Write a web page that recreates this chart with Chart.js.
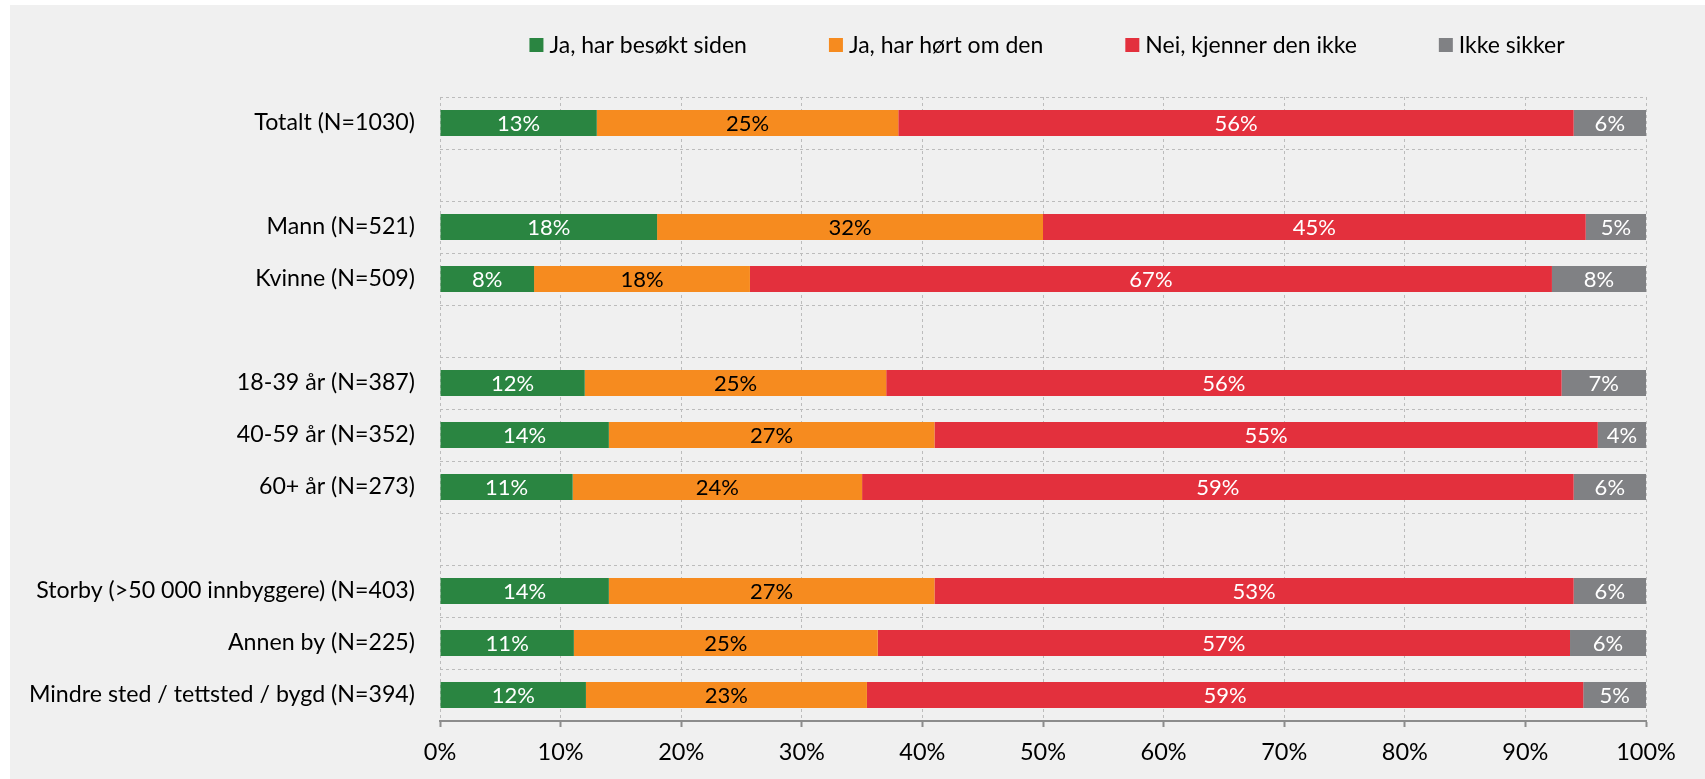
<!DOCTYPE html>
<html><head><meta charset="utf-8">
<script src="https://cdn.jsdelivr.net/npm/chart.js@4.4.0/dist/chart.umd.min.js"></script>
<style>
html,body{margin:0;padding:0;background:#ffffff;}
#wrap{position:absolute;left:10px;top:5px;width:1695px;height:774px;background:#f0f0f0;}
</style></head><body>
<div id="wrap"><canvas id="c"></canvas></div>
<script>
const categories = [
  'Totalt (N=1030)', '',
  'Mann (N=521)', 'Kvinne (N=509)', '',
  '18-39 år (N=387)', '40-59 år (N=352)', '60+ år (N=273)', '',
  'Storby (>50 000 innbyggere) (N=403)', 'Annen by (N=225)', 'Mindre sted / tettsted / bygd (N=394)'
];
const seriesNames = ['Ja, har besøkt siden', 'Ja, har hørt om den', 'Nei, kjenner den ikke', 'Ikke sikker'];
const jaBesokt   = [13, null, 18, 7.8, null, 12, 14, 11, null, 14, 11.1, 12.1];
const jaHort     = [25, null, 32, 17.9, null, 25, 27, 24, null, 27, 25.2, 23.3];
const neiKjenner = [56, null, 45, 66.5, null, 56, 55, 59, null, 53, 57.4, 59.4];
const ikkeSikker = [6, null, 5, 7.8, null, 7, 4, 6, null, 6, 6.3, 5.2];
const xTicks = [0, 10, 20, 30, 40, 50, 60, 70, 80, 90, 100];

const colors = ['#2a8541', '#f68b1f', '#e3303d', '#808184'];
const labelColors = ['#ffffff', '#000000', '#ffffff', '#ffffff'];
const FONT = 'Lato';

const seriesData = [jaBesokt, jaHort, neiKjenner, ikkeSikker];

const legendPlugin = {
  id: 'customLegend',
  afterDraw(chart) {
    const ctx = chart.ctx, ca = chart.chartArea;
    ctx.save();
    ctx.font = '23px ' + FONT;
    const box = 14, gapText = 6, gapItem = 82;
    const widths = chart.data.datasets.map(d => box + gapText + ctx.measureText(d.label).width);
    const total = widths.reduce((a, b) => a + b, 0) + gapItem * (widths.length - 1);
    let x = (ca.left + ca.right) / 2 - total / 2 + 4;
    const yc = 40;
    chart.data.datasets.forEach((d, i) => {
      ctx.fillStyle = d.backgroundColor;
      ctx.fillRect(x, yc - box / 2, box, box);
      ctx.fillStyle = '#000000';
      ctx.textBaseline = 'middle';
      ctx.textAlign = 'left';
      ctx.fillText(d.label, x + box + gapText, yc + 1);
      x += widths[i] + gapItem;
    });
    ctx.restore();
  }
};

const dataLabelPlugin = {
  id: 'segLabels',
  afterDatasetsDraw(chart) {
    const ctx = chart.ctx;
    ctx.save();
    ctx.font = '22px ' + FONT;
    ctx.textAlign = 'center';
    ctx.textBaseline = 'middle';
    chart.data.datasets.forEach((d, di) => {
      const meta = chart.getDatasetMeta(di);
      meta.data.forEach((el, i) => {
        const v = d.data[i];
        if (v === null || v === undefined) return;
        ctx.fillStyle = labelColors[di];
        ctx.fillText(Math.round(v) + '%', (el.x + el.base) / 2, el.y + 1);
      });
    });
    ctx.restore();
  }
};

new Chart(document.getElementById('c'), {
  type: 'bar',
  data: {
    labels: categories,
    datasets: seriesNames.map((name, i) => ({
      label: name,
      data: seriesData[i],
      backgroundColor: colors[i],
      borderWidth: 0,
      barPercentage: 1,
      categoryPercentage: 0.5
    }))
  },
  options: {
    indexAxis: 'y',
    responsive: true,
    maintainAspectRatio: false,
    animation: false,
    layout: { padding: { top: 92, right: 59, left: 0, bottom: 0 } },
    plugins: { legend: { display: false }, tooltip: { enabled: false }, title: { display: false } },
    scales: {
      x: {
        stacked: true,
        min: 0, max: 100,
        afterBuildTicks(scale) { scale.ticks = xTicks.map(v => ({ value: v })); },
        afterFit(scale) { scale.height = 58; },
        ticks: {
          callback: v => v + '%',
          color: '#000000',
          font: { family: FONT, size: 23.5 },
          padding: 11,
          maxRotation: 0
        },
        grid: {
          color: '#bcbcbc',
          lineWidth: 1,
          drawTicks: true,
          tickLength: 6,
          tickColor: '#8c8c8c',
          tickWidth: 2,
          tickBorderDash: []
        },
        border: { display: true, color: '#8c8c8c', width: 2, dash: [3, 3] }
      },
      y: {
        stacked: true,
        afterFit(scale) { scale.width = 430; },
        ticks: {
          autoSkip: false,
          color: '#000000',
          font: { family: FONT, size: 23.2 },
          padding: 25
        },
        grid: {
          color: '#bcbcbc',
          lineWidth: 1,
          drawTicks: false,
          offset: true
        },
        border: { display: false, dash: [3, 3] }
      }
    }
  },
  plugins: [dataLabelPlugin, legendPlugin]
});
</script>
</body></html>
